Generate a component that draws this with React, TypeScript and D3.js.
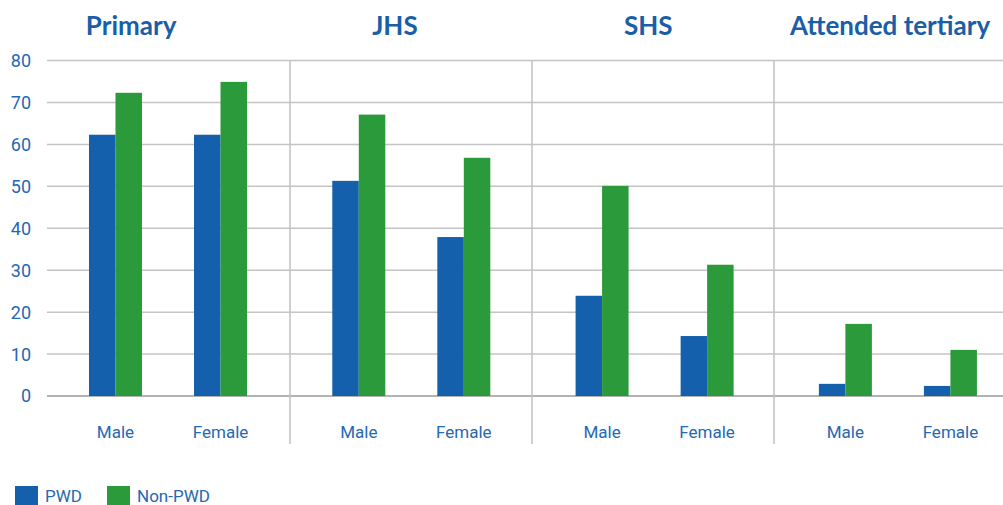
import React from "react";
import * as d3 from "d3";

const levels = ["Primary", "JHS", "SHS", "Attended tertiary"];
const genders = ["Male", "Female"];
const seriesNames = ["PWD", "Non-PWD"];
// values[level][gender]
const pwdValues = [
  [62.3, 62.3],
  [51.3, 37.9],
  [23.9, 14.3],
  [2.9, 2.4],
];
const nonPwdValues = [
  [72.3, 74.9],
  [67.1, 56.8],
  [50.1, 31.3],
  [17.2, 11.0],
];
const yTicks = [0, 10, 20, 30, 40, 50, 60, 70, 80];

const W = 1003;
const H = 505;
const BLUE = "#1560AC";
const GREEN = "#2A9A3A";
const TEXT = "#2568B3";
const TITLE = "#1A5EA8";
const titleOffsets = [-37.5, -17, -7, -8.5];

export default function App() {
  const y = d3.scaleLinear().domain([0, 80]).range([396, 60.5]);
  const panel = d3.scaleBand().domain(levels).range([47, 47 + 4 * 243.3]);
  const sep = d3.scaleBand().domain(levels).range([48, 48 + 4 * 242]);
  const inner = d3.scalePoint().domain(genders).range([0, 242]).padding(0.652);
  const barW = 26.5;
  const series = d3.scaleBand().domain(seriesNames).range([-barW, barW]);
  const colors = d3.scaleOrdinal<string, string>().domain(seriesNames).range([BLUE, GREEN]);

  const bars: { x: number; v: number; s: string; key: string }[] = [];
  levels.forEach((lv, li) => {
    genders.forEach((g, gi) => {
      const cx = (panel(lv) as number) + (inner(g) as number);
      bars.push({ x: cx + (series("PWD") as number), v: pwdValues[li][gi], s: "PWD", key: `${lv}-${g}-p` });
      bars.push({ x: cx + (series("Non-PWD") as number), v: nonPwdValues[li][gi], s: "Non-PWD", key: `${lv}-${g}-n` });
    });
  });

  return (
    <svg
      width={W}
      height={H}
      style={{ position: "absolute", left: 0, top: 0, background: "#fff" }}
      fontFamily="Roboto, 'Open Sans', sans-serif"
    >
      {yTicks.map((t) => (
        <line
          key={t}
          x1={47}
          x2={W}
          y1={y(t)}
          y2={y(t)}
          stroke={t === 0 ? "#9a9a9a" : "#c4c4c4"}
          strokeWidth={1.5}
        />
      ))}
      {levels.slice(1).map((lv) => (
        <line
          key={lv}
          x1={sep(lv) as number}
          x2={sep(lv) as number}
          y1={y(80)}
          y2={444}
          stroke="#c0c0c0"
          strokeWidth={1.5}
        />
      ))}
      {bars.map((b) => (
        <rect
          key={b.key}
          x={b.x}
          y={y(b.v)}
          width={series.bandwidth()}
          height={y(0) - y(b.v)}
          fill={colors(b.s)}
        />
      ))}
      {yTicks.map((t) => (
        <text key={t} x={31} y={y(t)} dy="0.36em" textAnchor="end" fontSize={18} fill={TEXT}>
          {t}
        </text>
      ))}
      {levels.map((lv) =>
        genders.map((g) => (
          <text
            key={lv + g}
            x={(panel(lv) as number) + (inner(g) as number)}
            y={438}
            textAnchor="middle"
            fontSize={17}
            fill={TEXT}
          >
            {g}
          </text>
        ))
      )}
      {levels.map((lv, i) => (
        <text
          key={lv}
          x={(panel(lv) as number) + panel.bandwidth() / 2 + titleOffsets[i]}
          y={35}
          textAnchor="middle"
          fontFamily="Lato, 'Open Sans', sans-serif"
          fontWeight={700}
          fontSize={26}
          fill={TITLE}
        >
          {lv}
        </text>
      ))}
      {seriesNames.map((s, i) => (
        <g key={s} transform={`translate(${15 + i * 92},486)`}>
          <rect width={23} height={23} fill={colors(s)} />
          <text x={30} y={16} fontSize={17} fill={TEXT}>
            {s}
          </text>
        </g>
      ))}
    </svg>
  );
}
